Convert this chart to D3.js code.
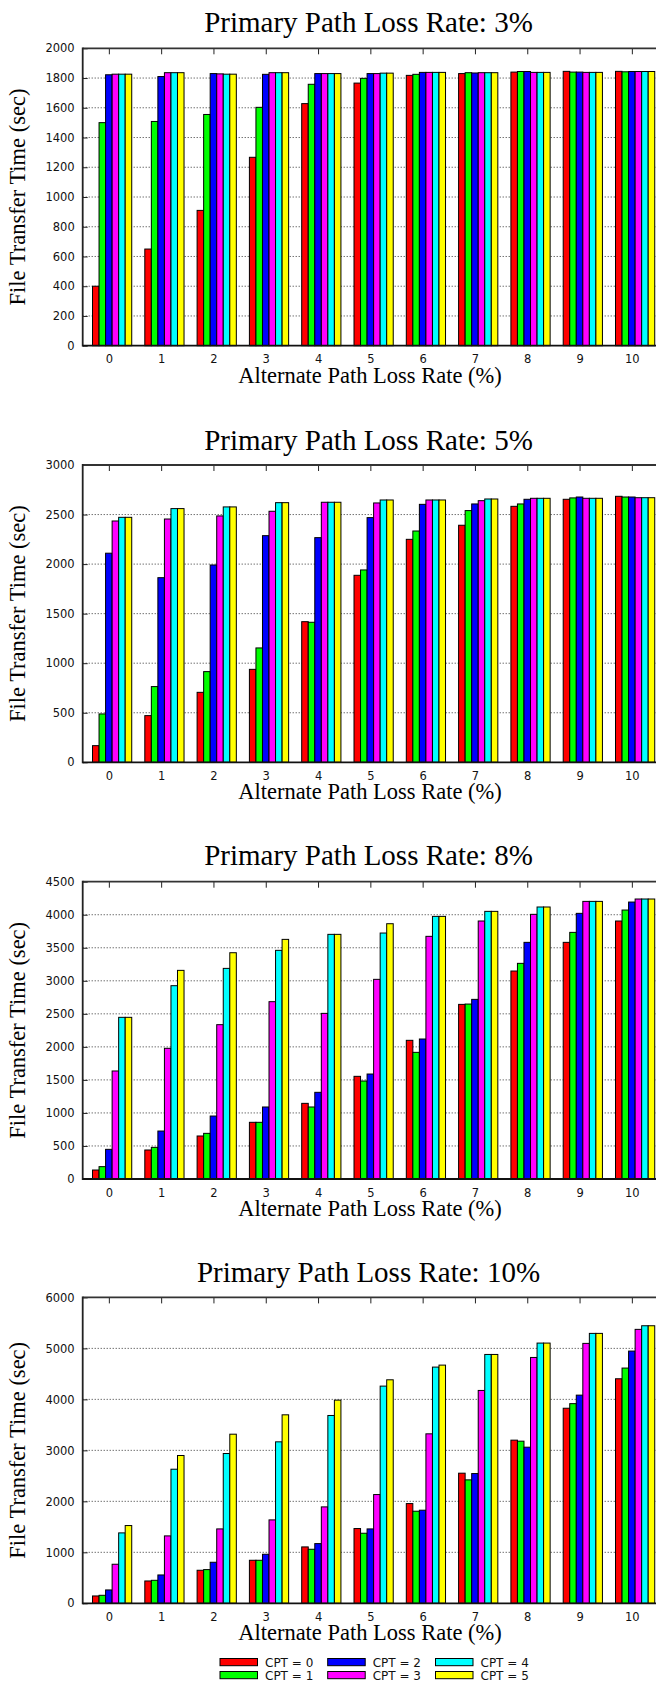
<!DOCTYPE html>
<html>
<head>
<meta charset="utf-8">
<script src="https://cdn.jsdelivr.net/npm/d3@7"></script>
<style>
  body { margin: 0; background: #fff; }
  svg { display: block; }
</style>
</head>
<body>
<svg id="chart" width="656" height="1683"></svg>
<script>
// Alternate path loss rate (%) on the x axis
const altLossRates = [0, 1, 2, 3, 4, 5, 6, 7, 8, 9, 10];

// One series per CPT setting
const cptLabels = ["CPT = 0", "CPT = 1", "CPT = 2", "CPT = 3", "CPT = 4", "CPT = 5"];
const cptColors = ["#ff0000", "#00ff00", "#0000ff", "#ff00ff", "#00ffff", "#ffff00"];

// Panel titles
const panelTitles = [
  "Primary Path Loss Rate: 3%",
  "Primary Path Loss Rate: 5%",
  "Primary Path Loss Rate: 8%",
  "Primary Path Loss Rate: 10%"
];

// File transfer time (sec); rows = alternate loss rate, columns = CPT 0..5
const primary3 = [
  [400, 1500, 1822, 1826, 1826, 1826],
  [650, 1508, 1810, 1836, 1836, 1836],
  [910, 1555, 1830, 1828, 1826, 1826],
  [1267, 1603, 1825, 1836, 1836, 1836],
  [1628, 1758, 1830, 1830, 1830, 1830],
  [1766, 1798, 1830, 1830, 1833, 1833],
  [1818, 1825, 1838, 1838, 1838, 1838],
  [1830, 1836, 1834, 1836, 1836, 1836],
  [1840, 1844, 1844, 1838, 1838, 1838],
  [1845, 1840, 1840, 1838, 1838, 1838],
  [1845, 1842, 1844, 1844, 1844, 1844]
];

const primary5 = [
  [168, 488, 2110, 2435, 2472, 2472],
  [471, 764, 1863, 2455, 2560, 2560],
  [706, 915, 1991, 2486, 2577, 2577],
  [938, 1154, 2287, 2533, 2620, 2620],
  [1419, 1413, 2267, 2624, 2624, 2624],
  [1887, 1941, 2469, 2617, 2647, 2647],
  [2250, 2334, 2603, 2647, 2647, 2647],
  [2392, 2540, 2607, 2640, 2657, 2657],
  [2583, 2607, 2654, 2664, 2664, 2664],
  [2654, 2668, 2677, 2664, 2664, 2664],
  [2684, 2677, 2677, 2670, 2670, 2670]
];

const primary8 = [
  [136, 187, 449, 1635, 2447, 2447],
  [439, 479, 726, 1978, 2926, 3158],
  [651, 691, 953, 2336, 3188, 3425],
  [858, 858, 1090, 2684, 3461, 3627],
  [1145, 1090, 1312, 2507, 3703, 3703],
  [1554, 1483, 1589, 3022, 3723, 3864],
  [2099, 1917, 2119, 3673, 3975, 3975],
  [2643, 2648, 2719, 3905, 4051, 4051],
  [3148, 3264, 3582, 4006, 4117, 4117],
  [3582, 3733, 4021, 4202, 4202, 4202],
  [3905, 4071, 4192, 4238, 4238, 4238]
];

const primary10 = [
  [144, 157, 262, 766, 1381, 1525],
  [438, 451, 556, 1322, 2630, 2899],
  [648, 661, 805, 1459, 2938, 3317],
  [844, 844, 962, 1636, 3167, 3697],
  [1106, 1060, 1171, 1891, 3684, 3985],
  [1466, 1374, 1459, 2133, 4260, 4384],
  [1956, 1806, 1826, 3324, 4633, 4672],
  [2552, 2421, 2545, 4175, 4881, 4881],
  [3200, 3180, 3062, 4822, 5104, 5104],
  [3826, 3916, 4083, 5098, 5294, 5294],
  [4404, 4614, 4947, 5373, 5444, 5444]
];

// Y axis tick labels per panel
const yTicks3 = [0, 200, 400, 600, 800, 1000, 1200, 1400, 1600, 1800, 2000];
const yTicks5 = [0, 500, 1000, 1500, 2000, 2500, 3000];
const yTicks8 = [0, 500, 1000, 1500, 2000, 2500, 3000, 3500, 4000, 4500];
const yTicks10 = [0, 1000, 2000, 3000, 4000, 5000, 6000];

const xTitle = "Alternate Path Loss Rate (%)";
const yTitle = "File Transfer Time (sec)";

// Vertical layout of the four stacked plots
const panels = [
  { title: panelTitles[0], values: primary3,  ticks: yTicks3,  top: 48.3,   bottom: 345.7,  titleY: 32.3 },
  { title: panelTitles[1], values: primary5,  ticks: yTicks5,  top: 465.0,  bottom: 762.3,  titleY: 449.5 },
  { title: panelTitles[2], values: primary8,  ticks: yTicks8,  top: 881.7,  bottom: 1179.0, titleY: 865.0 },
  { title: panelTitles[3], values: primary10, ticks: yTicks10, top: 1297.4, bottom: 1603.3, titleY: 1281.7 }
];

const svg = d3.select("#chart");
const W = 656;
const plotLeft = 82.7;
const catStep = 52.3;
const x = d3.scaleLinear()
  .domain([-0.5, altLossRates.length - 0.5])
  .range([plotLeft, plotLeft + catStep * altLossRates.length]);

// gnuplot-style clustered histogram: 6 boxes, gap of 2 box widths
const nSeries = cptLabels.length;
const boxW = 1 / (nSeries + 2);
const barStart = (i, j) => i - 0.5 + (1.5 + j) * boxW;

const serif = "'Liberation Serif', 'Times New Roman', serif";
const sans = "'DejaVu Sans', sans-serif";

panels.forEach(p => {
  const g = svg.append("g");
  const y = d3.scaleLinear()
    .domain([0, d3.max(p.ticks)])
    .range([p.bottom, p.top]);

  // Dotted grid lines
  g.append("g").selectAll("line")
    .data(p.ticks.slice(1, -1))
    .join("line")
    .attr("x1", plotLeft).attr("x2", W)
    .attr("y1", d => y(d)).attr("y2", d => y(d))
    .attr("stroke", "#333")
    .attr("stroke-width", 1)
    .attr("stroke-dasharray", "1,2");

  // Bars
  const rows = p.values.flatMap((row, i) =>
    row.map((v, j) => ({ i: altLossRates[i], j, v })));
  g.append("g").selectAll("rect")
    .data(rows)
    .join("rect")
    .attr("x", d => x(barStart(d.i, d.j)))
    .attr("width", x(boxW) - x(0))
    .attr("y", d => y(d.v))
    .attr("height", d => y(0) - y(d.v))
    .attr("fill", d => cptColors[d.j])
    .attr("stroke", "#000")
    .attr("stroke-width", 1);

  // Left axis with tick labels
  const yAxis = g.append("g")
    .attr("transform", `translate(${plotLeft},0)`)
    .call(d3.axisLeft(y).tickValues(p.ticks).tickSize(-5).tickPadding(8).tickFormat(d3.format("d")));
  yAxis.select(".domain").remove();
  yAxis.selectAll("line").attr("stroke", "#222");
  yAxis.selectAll("text")
    .attr("font-family", sans).attr("font-size", 11.5).attr("fill", "#111");

  // Bottom axis labels
  const xAxis = g.append("g")
    .attr("transform", `translate(0,${p.bottom})`)
    .call(d3.axisBottom(x).tickValues(altLossRates).tickSize(0).tickPadding(9.4));
  xAxis.select(".domain").remove();
  xAxis.selectAll("text")
    .attr("font-family", sans).attr("font-size", 11.5).attr("fill", "#111");

  // Mirrored ticks along the top border
  const topAxis = g.append("g")
    .attr("transform", `translate(0,${p.top})`)
    .call(d3.axisTop(x).tickValues(altLossRates).tickSize(-6).tickFormat(""));
  topAxis.select(".domain").remove();
  topAxis.selectAll("line").attr("stroke", "#222");

  // Frame: top border, left axis, zero line
  g.append("line")
    .attr("x1", plotLeft).attr("x2", W).attr("y1", p.top).attr("y2", p.top)
    .attr("stroke", "#333").attr("stroke-width", 1.8);
  g.append("line")
    .attr("x1", plotLeft).attr("x2", plotLeft).attr("y1", p.top - 0.9).attr("y2", p.bottom + 0.9)
    .attr("stroke", "#222").attr("stroke-width", 1.8);
  g.append("line")
    .attr("x1", plotLeft).attr("x2", W).attr("y1", p.bottom).attr("y2", p.bottom)
    .attr("stroke", "#111").attr("stroke-width", 1.8);

  // Titles
  g.append("text")
    .attr("x", 368.5).attr("y", p.titleY)
    .attr("text-anchor", "middle")
    .attr("font-family", serif).attr("font-size", 29)
    .text(p.title);

  g.append("text")
    .attr("x", 370).attr("y", p.bottom + 37)
    .attr("text-anchor", "middle")
    .attr("font-family", serif).attr("font-size", 22.5)
    .text(xTitle);

  g.append("text")
    .attr("transform", `translate(25,${(p.top + p.bottom) / 2}) rotate(-90)`)
    .attr("text-anchor", "middle")
    .attr("font-family", serif).attr("font-size", 22.5)
    .text(yTitle);
});

// Legend below the last plot, filled column by column
const legend = svg.append("g");
const legX = [220, 327.7, 435.5];
const legRowY = [1658.5, 1671.5];
cptLabels.forEach((label, k) => {
  const col = Math.floor(k / 2), row = k % 2;
  legend.append("rect")
    .attr("x", legX[col]).attr("y", legRowY[row])
    .attr("width", 37.5).attr("height", 7.2)
    .attr("fill", cptColors[k])
    .attr("stroke", "#000").attr("stroke-width", 1);
  legend.append("text")
    .attr("x", legX[col] + 45).attr("y", legRowY[row] + 8.3)
    .attr("font-family", sans).attr("font-size", 12).attr("fill", "#111")
    .text(label);
});
</script>
</body>
</html>
